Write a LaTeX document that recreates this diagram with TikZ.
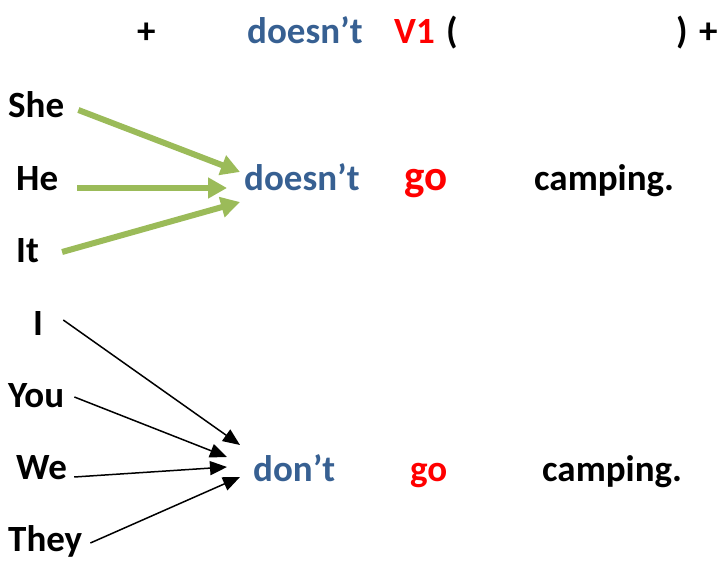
\documentclass[tikz,border=0pt]{standalone}
\usepackage{fontspec}
\setmainfont{Carlito}
\usetikzlibrary{arrows.meta}

\definecolor{auxblue}{HTML}{376092}
\definecolor{arrowgreen}{HTML}{9BBB59}
\definecolor{verbred}{HTML}{FF0000}

\begin{document}
\begin{tikzpicture}[
      x=1pt, y=-1pt,
      word/.style  = {inner sep=0pt, anchor=base west,
                      font=\fontsize{37}{40}\selectfont\bfseries},
      aux/.style   = {word, text=auxblue},
      verb/.style  = {word, text=verbred},
      bigverb/.style = {verb, font=\fontsize{43}{46}\selectfont\bfseries},
      fat/.style   = {-{Triangle[length=19pt,width=20pt]}, line width=6pt, draw=arrowgreen},
      thin/.style  = {-{Triangle[length=17pt,width=14pt]}, line width=1.5pt}
    ]
    \useasboundingbox (0,0) rectangle (720,561);

    % Formula row
    \node[word] (plusa)   at (137,44) {+};
    \node[aux]  (formaux) at (247,44) {doesn’t};
    \node[verb] (formv)   at (394,44) {V1};
    \node[word] (lpar)    at (446,44) {(};
    \node[word] (rpar)    at (676,44) {)};
    \node[word] (plusb)   at (699,44) {+};

    % He / She / It
    \node[word] (she) at (8,118)  {She};
    \node[word] (he)  at (16,191) {He};
    \node[word] (it)  at (16,263) {It};
    \node[aux]  (doesnt)   at (244,191) {doesn’t};
    \node[bigverb] (goa)   at (404,191) {go};
    \node[word] (campinga) at (534,191) {camping.};

    % I / You / We / They
    \node[word] (i)    at (33,335) {I};
    \node[word] (you)  at (8,407)  {You};
    \node[word] (we)   at (16,479) {We};
    \node[word] (they) at (8,551)  {They};
    \node[aux]  (dont)     at (253,481) {don’t};
    \node[verb] (gob)      at (410,481) {go};
    \node[word] (campingb) at (542,481) {camping.};

    % Arrows
    \draw[fat] ([shift={(14,-8)}]she.base east) -- ([shift={(-4,-19)}]doesnt.base west);
    \draw[fat] ([shift={(19,-3)}]he.base east)  -- ([shift={(-17,-3)}]doesnt.base west);
    \draw[fat] ([shift={(23,-11)}]it.base east) -- ([shift={(-4,11)}]doesnt.base west);

    \draw[thin] ([shift={(20,-15)}]i.base east)   -- ([shift={(-13,-36)}]dont.base west);
    \draw[thin] ([shift={(10,-10)}]you.base east) -- ([shift={(-26,-24)}]dont.base west);
    \draw[thin] ([shift={(7,-2)}]we.base east)    -- ([shift={(-26,-14)}]dont.base west);
    \draw[thin] ([shift={(8,-8)}]they.base east)  -- ([shift={(-13,-4)}]dont.base west);
  \end{tikzpicture}
\end{document}
